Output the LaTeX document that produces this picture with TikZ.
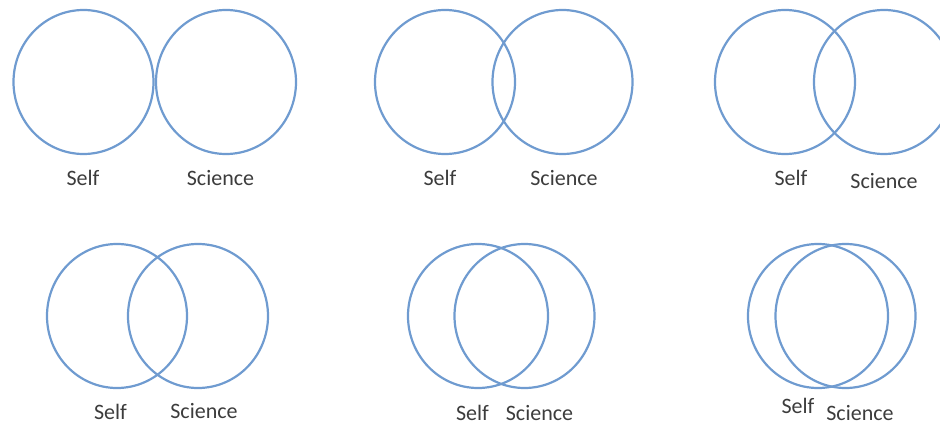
\documentclass[tikz,border=0pt]{standalone}
\usepackage{fontspec}
\setmainfont{Carlito}
\usepackage{tikz}
\usetikzlibrary{shapes.geometric}
\definecolor{vennBlue}{HTML}{6F9BD0}
\definecolor{lblGray}{HTML}{3C3C3C}
\colorlet{ring}{vennBlue}

\begin{document}
\begin{tikzpicture}[x=1pt, y=-1pt,
  ring/.style={ellipse, draw=vennBlue, line width=2.2pt, minimum width=140pt, minimum height=144pt, inner sep=0pt},
  lbl/.style={text=lblGray, font=\fontsize{22}{26}\selectfont, inner sep=0pt}]
\useasboundingbox (0,0) rectangle (940,425);
\clip (0,0) rectangle (940,425);
\node[ring] (selfA) at (83.5,82) {};
\node[ring] (sciA) at (226,82) {};
\node[lbl] (selfAl) at (83,178) {Self};
\node[lbl] (sciAl) at (220.5,178) {Science};
\node[ring] (selfB) at (445,82) {};
\node[ring] (sciB) at (562.5,82) {};
\node[lbl] (selfBl) at (440,178) {Self};
\node[lbl] (sciBl) at (564,178) {Science};
\node[ring] (selfC) at (785,82) {};
\node[ring] (sciC) at (884,82) {};
\node[lbl] (selfCl) at (791,178) {Self};
\node[lbl] (sciCl) at (884,181) {Science};
\node[ring] (selfD) at (117,316) {};
\node[ring] (sciD) at (198,316) {};
\node[lbl] (selfDl) at (110.5,411.5) {Self};
\node[lbl] (sciDl) at (204,411.5) {Science};
\node[ring] (selfE) at (478,316) {};
\node[ring] (sciE) at (524.5,316) {};
\node[lbl] (selfEl) at (472.5,413) {Self};
\node[lbl] (sciEl) at (539.5,413) {Science};
\node[ring] (selfF) at (818,316) {};
\node[ring] (sciF) at (845.5,316) {};
\node[lbl] (selfFl) at (798,405.5) {Self};
\node[lbl] (sciFl) at (860,413) {Science};
\end{tikzpicture}
\end{document}
